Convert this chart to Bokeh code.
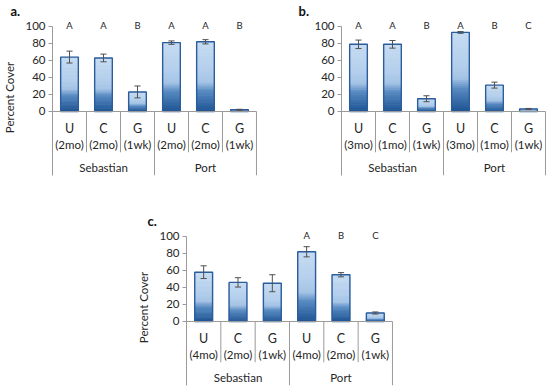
import numpy as np
from bokeh.plotting import figure
from bokeh.models import Range1d, FixedTicker, Spacer
from bokeh.layouts import column, row
from bokeh.embed import file_html
from bokeh.resources import INLINE
from bokeh.core.properties import value

# ---------------- data ----------------
sites = ["Sebastian", "Port"]
treatments = ["U", "C", "G", "U", "C", "G"]

a_ages = ["(2mo)", "(2mo)", "(1wk)", "(2mo)", "(2mo)", "(1wk)"]
a_mean = [64, 63, 23, 81, 82, 2]
a_err = [7, 4.5, 7, 2, 2.5, 0.6]
a_letters = ["A", "A", "B", "A", "A", "B"]

b_ages = ["(3mo)", "(1mo)", "(1wk)", "(3mo)", "(1mo)", "(1wk)"]
b_mean = [79, 79, 15, 93, 31, 3]
b_err = [5, 4.5, 3.5, 1, 3.5, 0.6]
b_letters = ["A", "A", "B", "A", "B", "C"]

c_ages = ["(4mo)", "(2mo)", "(1wk)", "(4mo)", "(2mo)", "(1wk)"]
c_mean = [58, 46, 45, 82, 55, 10]
c_err = [7.5, 5.5, 10, 6, 2.5, 1.2]
c_letters = ["", "", "", "A", "B", "C"]

yticks = [0, 20, 40, 60, 80, 100]

FONT = "Lato"
TXT = "#262626"
GRID = "#9a9a9a"

stops = [(0.0, (0x1d, 0x53, 0x92)), (0.30, (0x5a, 0x8c, 0xc3)),
         (0.42, (0xa6, 0xc4, 0xe6)), (0.60, (0xb4, 0xcf, 0xec)),
         (1.0, (0xc6, 0xdc, 0xf2))]


def grad(f):
    for (f0, c0), (f1, c1) in zip(stops[:-1], stops[1:]):
        if f0 <= f <= f1:
            t = (f - f0) / (f1 - f0)
            c = [int(round(c0[j] + (c1[j] - c0[j]) * t)) for j in range(3)]
            return "#%02x%02x%02x" % tuple(c)
    return "#c6dcf2"


def panel(tag, tag_dx, ages, mean, err, letters, ylabel, fw, fh,
          mb_left, mb_right, mb_top, mb_bottom):
    ymin, ymax = -75.3, 108.2
    p = figure(frame_width=fw, frame_height=fh,
               x_range=Range1d(0, 6.03), y_range=Range1d(ymin, ymax),
               output_backend="svg", toolbar_location=None,
               min_border_left=mb_left, min_border_right=mb_right,
               min_border_top=mb_top, min_border_bottom=mb_bottom)
    p.title.text = tag
    p.title.align = "left"
    p.title.offset = tag_dx
    p.title.standoff = 1
    p.title.text_font = FONT
    p.title.text_font_size = "13px"
    p.title.text_font_style = "bold"
    p.title.text_color = "#111111"

    p.xaxis.visible = False
    p.xgrid.visible = False
    p.ygrid.visible = False
    p.outline_line_color = None
    p.background_fill_color = "white"
    p.border_fill_color = "white"

    ax = p.yaxis[0]
    ax.ticker = FixedTicker(ticks=yticks)
    ax.bounds = (ymin, 100)
    ax.axis_line_color = GRID
    ax.major_tick_line_color = GRID
    ax.major_tick_out = 4
    ax.major_tick_in = 0
    ax.minor_tick_line_color = None
    ax.major_label_text_font = FONT
    ax.major_label_text_font_size = "11.5px"
    ax.major_label_text_color = TXT
    ax.major_label_standoff = 3
    if ylabel:
        ax.axis_label = ylabel
        ax.axis_label_text_font = FONT
        ax.axis_label_text_font_size = "11.5px"
        ax.axis_label_text_font_style = "normal"
        ax.axis_label_text_color = TXT
        ax.axis_label_standoff = 6

    xs = np.arange(len(mean)) + 0.5
    # gradient bars built from slices of each value
    N = 40
    sx, sb, st, sc = [], [], [], []
    for x, h in zip(xs, mean):
        for k in range(N):
            sx.append(x)
            sb.append(h * k / N)
            st.append(min(h, h * (k + 1.3) / N))
            sc.append(grad((k + 0.5) / N))
    p.vbar(x=sx, bottom=sb, top=st, width=0.52, fill_color=sc,
           line_color=sc, line_width=0.5)
    p.vbar(x=xs, bottom=0, top=mean, width=0.52, fill_color=None,
           line_color="#2b5c9c", line_width=1.4)

    # error bars
    lo = [m - e for m, e in zip(mean, err)]
    hi = [m + e for m, e in zip(mean, err)]
    p.segment(x0=xs, y0=lo, x1=xs, y1=hi, line_color="#505050", line_width=1)
    p.segment(x0=xs - 0.09, y0=hi, x1=xs + 0.09, y1=hi,
              line_color="#505050", line_width=1)
    p.segment(x0=xs - 0.09, y0=lo, x1=xs + 0.09, y1=lo,
              line_color="#505050", line_width=1)

    # category box lines
    p.segment(x0=[0], y0=[0], x1=[6], y1=[0], line_color=GRID, line_width=1)
    inner = [1, 2, 4, 5]
    p.segment(x0=inner, y0=[0] * 4, x1=inner, y1=[-48] * 4,
              line_color=GRID, line_width=1)
    p.segment(x0=[3, 6], y0=[0, 0], x1=[3, 6], y1=[ymin, ymin],
              line_color=GRID, line_width=1)

    # labels
    p.text(x=xs, y=[-19.5] * 6, text=treatments, text_align="center",
           text_baseline="middle", text_font=value(FONT),
           text_font_size="12.5px", text_color=TXT)
    p.text(x=xs, y=[-38.5] * 6, text=ages, text_align="center",
           text_baseline="middle", text_font=value(FONT),
           text_font_size="11.5px", text_color=TXT)
    p.text(x=[1.5, 4.5], y=[-65.5, -65.5], text=sites, text_align="center",
           text_baseline="middle", text_font=value(FONT),
           text_font_size="11.5px", text_color=TXT)
    p.text(x=xs, y=[101.5] * 6, text=letters, text_align="center",
           text_baseline="middle", text_font=value(FONT),
           text_font_size="9.5px", text_color=TXT)
    return p


pa = panel("a.", -42, a_ages, a_mean, a_err, a_letters, "Percent Cover",
           205, 156, 50, 25, 19, 25)
pb = panel("b.", -43, b_ages, b_mean, b_err, b_letters, None,
           205, 156, 59, 4, 19, 25)
pc = panel("c.", -39, c_ages, c_mean, c_err, c_letters, "Percent Cover",
           207, 156, 50, 10, 29, 3)

layout = column(row(pa, pb), row(Spacer(width=134, height=10), pc))

open("out.html", "w").write(file_html(layout, INLINE))
